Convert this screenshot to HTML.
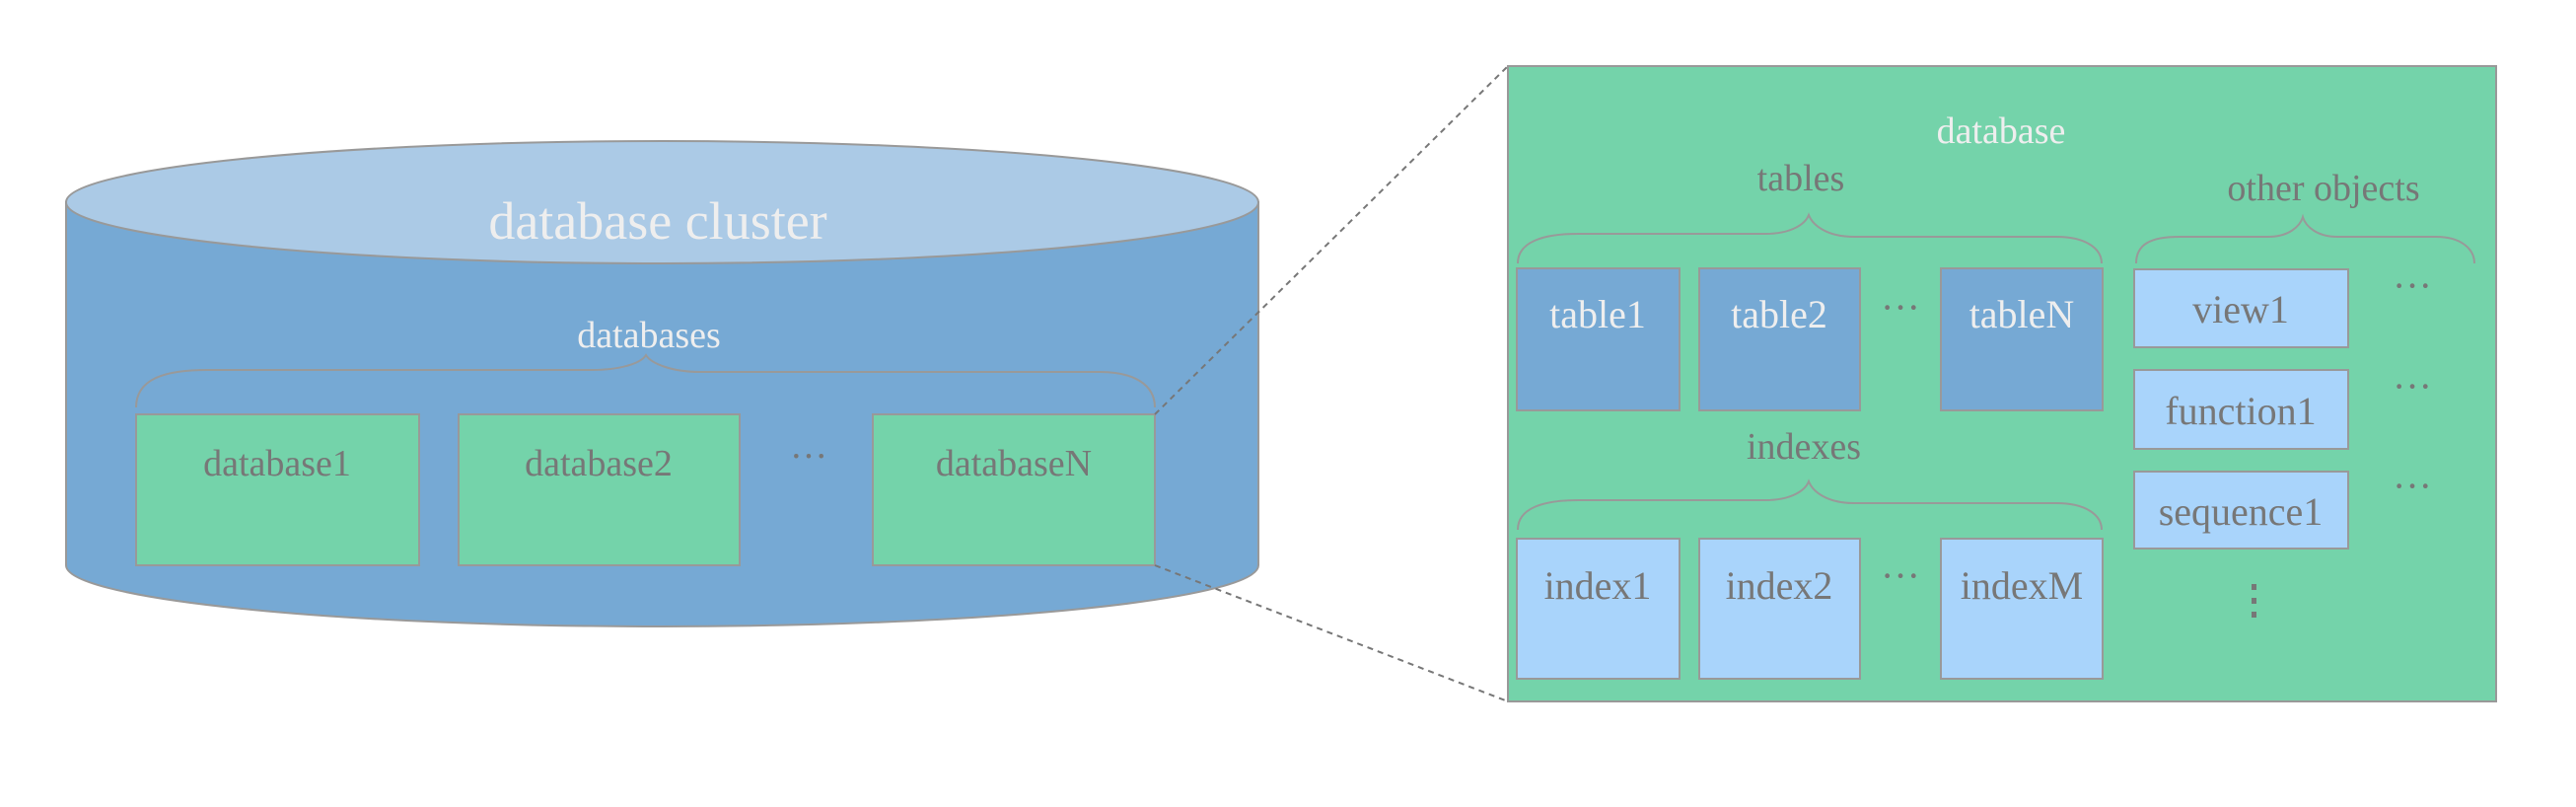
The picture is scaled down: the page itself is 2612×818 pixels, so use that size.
<!DOCTYPE html>
<html><head><meta charset="utf-8"><style>
html,body{margin:0;padding:0;background:#fff;}
svg{display:block;}
text{font-family:"Liberation Serif",serif;}
</style></head><body>
<svg width="2612" height="818" viewBox="0 0 2612 818" xmlns="http://www.w3.org/2000/svg">
<rect width="2612" height="818" fill="#fff"/>
<!-- cylinder -->
<path d="M67 205 L67 573 A604.5 62 0 0 0 1276 573 L1276 205 Z" fill="#76a9d4" stroke="#999" stroke-width="2"/>
<ellipse cx="671.5" cy="205" rx="604.5" ry="62" fill="#abcae6" stroke="#999" stroke-width="2"/>
<text x="667" y="242" font-size="54" fill="#eeeeee" text-anchor="middle">database cluster</text>
<text x="658" y="352" font-size="38" fill="#eeeeee" text-anchor="middle">databases</text>
<path d="M138 413 C138 385 165 375 210 375 L600 375 C630 375 650 368 655 360 C660 368 680 377 710 377 L1115 377 C1150 377 1171 390 1171 413" fill="none" stroke="#999" stroke-width="2"/>
<g stroke="#999" stroke-width="2" fill="#74d3aa">
<rect x="138" y="420" width="287" height="153"/>
<rect x="465" y="420" width="285" height="153"/>
<rect x="885" y="420" width="286" height="153"/>
</g>
<g font-size="38" fill="#777" text-anchor="middle">
<text x="281" y="482">database1</text>
<text x="607" y="482">database2</text>
<text x="1028" y="482">databaseN</text>
<text x="820" y="475">···</text>
</g>
<!-- dashed connectors -->
<line x1="1171" y1="420" x2="1529" y2="67" stroke="#777" stroke-width="2" stroke-dasharray="6,5"/>
<line x1="1171" y1="573" x2="1529" y2="711" stroke="#777" stroke-width="2" stroke-dasharray="6,5"/>
<!-- right box -->
<rect x="1529" y="67" width="1002" height="644" fill="#74d3aa" stroke="#999" stroke-width="2"/>
<text x="2029" y="145" font-size="38" fill="#eeeeee" text-anchor="middle">database</text>
<g font-size="38" fill="#777" text-anchor="middle">
<text x="1826" y="193">tables</text>
<text x="2356" y="203">other objects</text>
<text x="1829" y="465">indexes</text>
</g>
<path d="M1539 267 C1539 245 1565 237 1600 237 L1790 237 C1815 237 1830 228 1834 218 C1838 228 1852 240 1880 240 L2085 240 C2115 240 2131 252 2131 267" fill="none" stroke="#999" stroke-width="2"/>
<path d="M2166 267 C2166 248 2180 240 2210 240 L2300 240 C2320 240 2332 230 2335 220 C2338 230 2350 240 2370 240 L2470 240 C2495 240 2509 252 2509 267" fill="none" stroke="#999" stroke-width="2"/>
<path d="M1539 537 C1539 515 1565 507 1600 507 L1790 507 C1815 507 1830 498 1834 488 C1838 498 1852 510 1880 510 L2085 510 C2115 510 2131 522 2131 537" fill="none" stroke="#999" stroke-width="2"/>
<g stroke="#999" stroke-width="2" fill="#76a9d4">
<rect x="1538" y="272" width="165" height="144"/>
<rect x="1723" y="272" width="163" height="144"/>
<rect x="1968" y="272" width="164" height="144"/>
</g>
<g stroke="#999" stroke-width="2" fill="#a9d4fb">
<rect x="1538" y="546" width="165" height="142"/>
<rect x="1723" y="546" width="163" height="142"/>
<rect x="1968" y="546" width="164" height="142"/>
<rect x="2164" y="273" width="217" height="79"/>
<rect x="2164" y="375" width="217" height="80"/>
<rect x="2164" y="478" width="217" height="78"/>
</g>
<g font-size="40" fill="#eeeeee" text-anchor="middle">
<text x="1620" y="332">table1</text>
<text x="1804" y="332">table2</text>
<text x="2050" y="332">tableN</text>
</g>
<g font-size="40" fill="#777" text-anchor="middle">
<text x="1620" y="607">index1</text>
<text x="1804" y="607">index2</text>
<text x="2050" y="607">indexM</text>
<text x="2272" y="327">view1</text>
<text x="2272" y="430">function1</text>
<text x="2272" y="532">sequence1</text>
<text x="1927" y="325">···</text>
<text x="1927" y="597">···</text>
<text x="2446" y="303">···</text>
<text x="2446" y="405">···</text>
<text x="2446" y="506">···</text>
</g>
<g fill="#777">
<rect x="2283" y="592" width="5" height="6"/>
<rect x="2283" y="606" width="5" height="6"/>
<rect x="2283" y="620" width="5" height="6"/>
</g>
</svg>
</body></html>
